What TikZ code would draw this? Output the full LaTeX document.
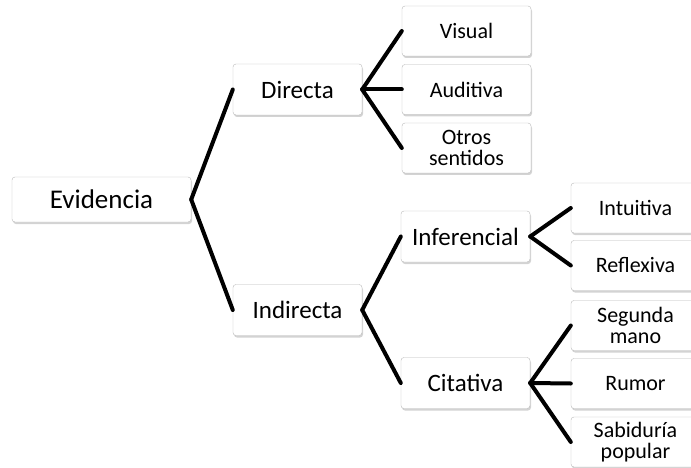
\documentclass[tikz,border=0pt]{standalone}
\usepackage{fontspec}
\setmainfont{Carlito}
\usetikzlibrary{shadows}
\tikzset{
  caja/.style={draw=gray!55, fill=white, rounded corners=3pt, inner sep=0pt,
    minimum width=129pt, minimum height=50pt, align=center,
    drop shadow={shadow xshift=1pt, shadow yshift=-2pt, opacity=0.35}},
  raiz/.style={caja, minimum width=179pt, minimum height=45pt, font=\fontsize{27}{30}\selectfont},
  medio/.style={caja, minimum height=51pt, font=\fontsize{25}{28}\selectfont},
  hoja/.style={caja, font=\fontsize{22}{21}\selectfont},
  rama/.style={line width=4pt, line cap=round}
}
\begin{document}
\begin{tikzpicture}[x=1pt, y=-1pt]
  \useasboundingbox (0,0) rectangle (691,468);
  \clip (0,0) rectangle (691,468);
  \node[raiz] (evid) at (101.5,199.5) {Evidencia};
  \node[medio] (dir) at (297.5,89.5) {Directa};
  \node[medio] (ind) at (297.5,310) {Indirecta};
  \node[hoja] (vis) at (466.5,31) {Visual};
  \node[hoja] (aud) at (466.5,89.5) {Auditiva};
  \node[hoja] (otros) at (466.5,148) {Otros\\sentidos};
  \node[medio] (inf) at (465.5,236.5) {Inferencial};
  \node[medio] (cit) at (465.5,383) {Citativa};
  \node[hoja] (intu) at (635.5,208) {Intuitiva};
  \node[hoja] (refl) at (635.5,265.5) {Reflexiva};
  \node[hoja] (seg) at (635.5,325.5) {Segunda\\mano};
  \node[hoja] (rum) at (635.5,383.5) {Rumor};
  \node[hoja] (sab) at (635.5,442) {Sabiduría\\popular};
  \foreach \h in {dir,ind} \draw[rama] (evid.east) -- (\h.west);
  \foreach \h in {vis,aud,otros} \draw[rama] (dir.east) -- (\h.west);
  \foreach \h in {inf,cit} \draw[rama] (ind.east) -- (\h.west);
  \foreach \h in {intu,refl} \draw[rama] (inf.east) -- (\h.west);
  \foreach \h in {seg,rum,sab} \draw[rama] (cit.east) -- (\h.west);
\end{tikzpicture}
\end{document}
